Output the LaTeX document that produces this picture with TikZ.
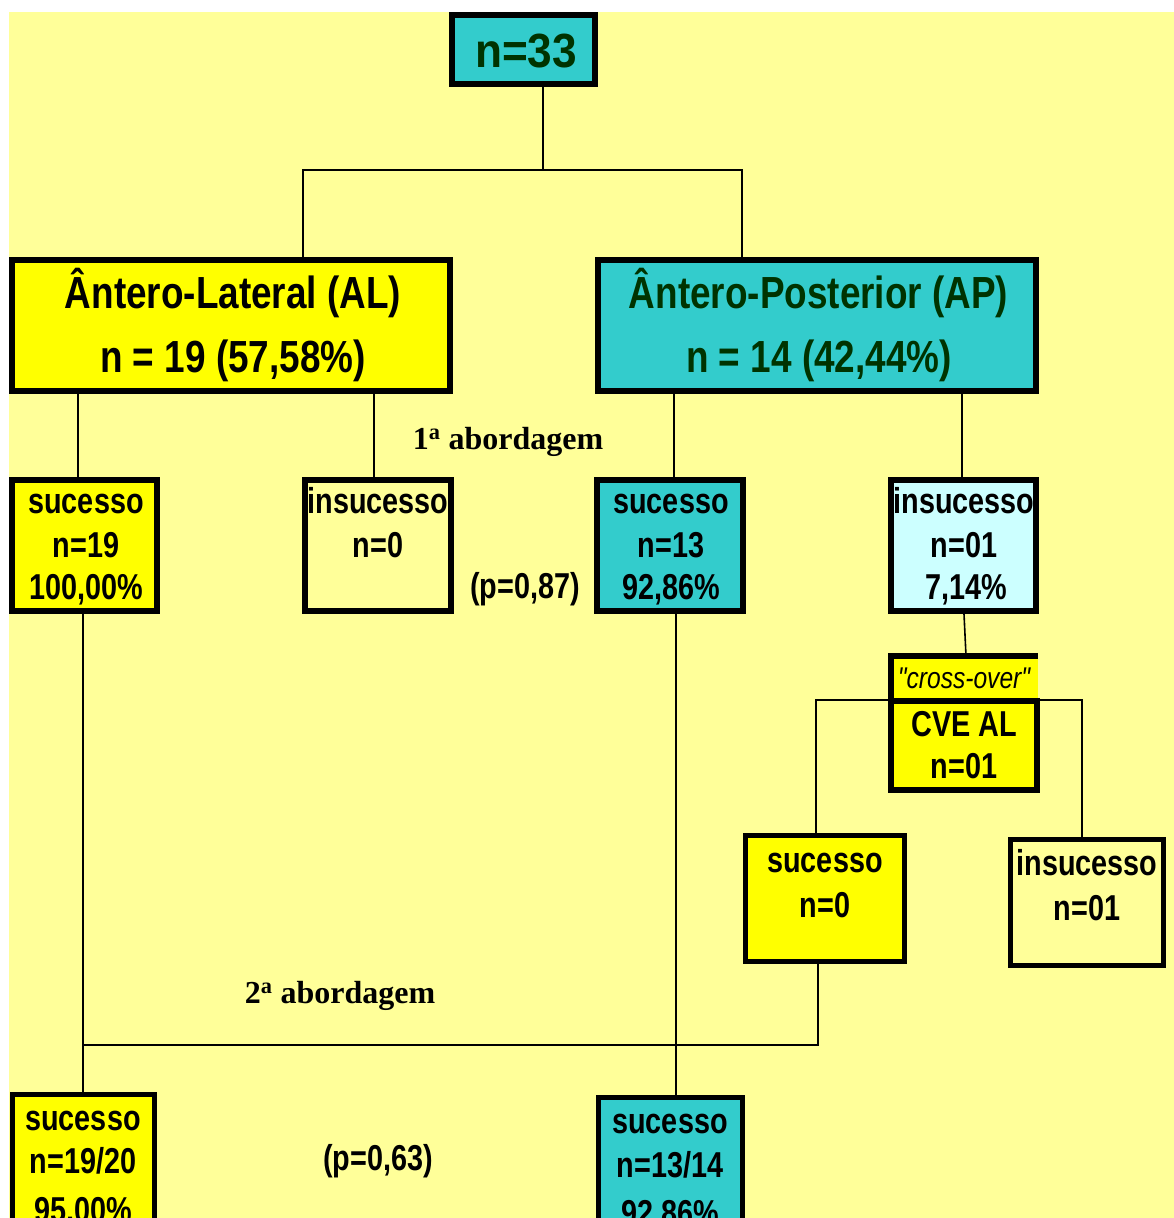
\documentclass[tikz,border=0pt]{standalone}
\usepackage{fontspec}
\setmainfont{Liberation Sans}
\newfontfamily\nar[FakeStretch=0.80]{Liberation Sans}
\newfontfamily\narb[FakeStretch=0.82]{Liberation Sans}
\newfontfamily\narw[FakeStretch=0.92]{Liberation Sans}
\newfontfamily\tms{Liberation Serif}
\definecolor{paper}{HTML}{FFFF99}
\definecolor{gold}{HTML}{FFFF00}
\definecolor{teal}{HTML}{33CCCC}
\definecolor{ice}{HTML}{CCFFFF}
\definecolor{deep}{HTML}{003300}
\tikzset{
  box/.style={draw=black, line width=6pt, inner sep=0pt},
  thinbox/.style={draw=black, line width=5pt, inner sep=0pt},
  lnk/.style={line width=1.6pt, black},
  lbl/.style={anchor=base, inner sep=0pt, font=\nar\bfseries\fontsize{36}{43}\selectfont},
  biglbl/.style={anchor=base, inner sep=0pt, font=\narb\bfseries\fontsize{45}{50}\selectfont},
  serif/.style={anchor=base, inner sep=0pt, font=\tms\bfseries\fontsize{32}{36}\selectfont},
}
\begin{document}
\begin{tikzpicture}[x=1pt, y=-1pt]
\useasboundingbox (0,0) rectangle (1174,1218);
\clip (0,0) rectangle (1174,1218);
\fill[white] (0,0) rectangle (1174,1218);
\fill[paper] (9,12) rectangle (1174,1218);

% boxes
\node[box, fill=teal, minimum width=143pt, minimum height=69pt] (top) at (523.5,49.5) {};
\node[box, fill=gold, minimum width=438pt, minimum height=131pt] (al) at (231,325.5) {};
\node[box, fill=teal, minimum width=438pt, minimum height=131pt] (ap) at (817,325.5) {};
\node[box, fill=gold, minimum width=145pt, minimum height=131pt] (s19) at (84.5,545.5) {};
\node[box, minimum width=146pt, minimum height=131pt] (i0) at (378,545.5) {};
\node[box, fill=teal, minimum width=146pt, minimum height=131pt] (s13) at (670,545.5) {};
\node[box, fill=ice, minimum width=145pt, minimum height=131pt] (i01) at (963.5,545.5) {};
\node[fill=gold, inner sep=0pt, minimum width=147pt, minimum height=44pt] (xo) at (964.5,678) {};
\draw[line width=6pt] (xo.south west) -- (xo.north west) -- (xo.north east);
\node[box, fill=gold, minimum width=146pt, minimum height=89pt] (cve) at (964,745.5) {};
\node[thinbox, fill=gold, minimum width=159pt, minimum height=126pt] (s0) at (825,898.5) {};
\node[thinbox, minimum width=153pt, minimum height=126pt] (i01b) at (1087,902.5) {};
\node[thinbox, fill=gold, minimum width=142pt, minimum height=143pt] (s1920) at (83.5,1166) {};
\node[thinbox, fill=teal, minimum width=144pt, minimum height=140pt] (s1314) at (670.5,1167.5) {};

% connectors
\coordinate (j0) at (543,170);
\coordinate (jl) at (303,170);
\coordinate (jr) at (742,170);
\draw[lnk] (top.south -| j0) -- (j0);
\draw[lnk] (al.north -| jl) -- (jl) -- (jr) -- (ap.north -| jr);
\draw[lnk] (al.south -| 78,0) -- (s19.north -| 78,0);
\draw[lnk] (al.south -| 374,0) -- (i0.north -| 374,0);
\draw[lnk] (ap.south -| 674,0) -- (s13.north -| 674,0);
\draw[lnk] (ap.south -| 962,0) -- (i01.north -| 962,0);
\draw[lnk] (i01.south -| 964,0) -- (xo.north -| 966,0);
\coordinate (xr) at (1082,700);
\draw[lnk] (s0.north -| 816,0) |- (xr) -- (i01b.north -| xr);
\coordinate (bl) at (83,1045);
\draw[lnk] (s19.south -| bl) -- (s1920.north -| bl);
\draw[lnk] (s0.south -| 818,0) |- (bl);
\draw[lnk] (s13.south -| 676,0) -- (s1314.north -| 676,0);

% texts
\node[anchor=base, inner sep=0pt, text=deep, font=\narw\bfseries\fontsize{48}{50}\selectfont] (ttop) at (526,67) {n=33};
\node[biglbl] (tal1) at (233,308) {Ântero-Lateral (AL)};
\node[biglbl] (tal2) at (233,372) {n = 19 (57,58\%)};
\node[biglbl, text=deep] (tap1) at (818.5,308) {Ântero-Posterior (AP)};
\node[biglbl, text=deep] (tap2) at (819,372) {n = 14 (42,44\%)};

\node[lbl] (a1) at (86,513) {sucesso};
\node[lbl] (a2) at (86,557) {n=19};
\node[lbl] (a3) at (86,599) {100,00\%};
\node[lbl] (b1) at (378,513) {insucesso};
\node[lbl] (b2) at (378,557) {n=0};
\node[lbl] (c1) at (671,513) {sucesso};
\node[lbl] (c2) at (671,557) {n=13};
\node[lbl] (c3) at (671,599) {92,86\%};
\node[lbl] (d1) at (964,513) {insucesso};
\node[lbl] (d2) at (964,557) {n=01};
\node[lbl] (d3) at (966,599) {7,14\%};

\node[anchor=base, inner sep=0pt, font=\narb\itshape\fontsize{30}{34}\selectfont] (txo) at (964,688) {"cross-over"};
\node[lbl] (e1) at (964,736) {CVE AL};
\node[lbl] (e2) at (964,778) {n=01};

\node[lbl] (f1) at (825,872) {sucesso};
\node[lbl] (f2) at (825,917) {n=0};
\node[lbl] (g1) at (1087,875) {insucesso};
\node[lbl] (g2) at (1087,920) {n=01};

\node[lbl] (h1) at (83,1130) {sucesso};
\node[lbl] (h2) at (83,1173) {n=19/20};
\node[lbl] (h3) at (83,1222) {95,00\%};
\node[lbl] (k1) at (670,1133) {sucesso};
\node[lbl] (k2) at (670,1177) {n=13/14};
\node[lbl] (k3) at (670,1225) {92,86\%};

\node[serif] (ab1) at (508,449) {1\textsuperscript{a} abordagem};
\node[lbl] (p1) at (525,598) {(p=0,87)};
\node[serif] (ab2) at (340,1003) {2\textsuperscript{a} abordagem};
\node[lbl] (p2) at (378,1170) {(p=0,63)};
\end{tikzpicture}
\end{document}
